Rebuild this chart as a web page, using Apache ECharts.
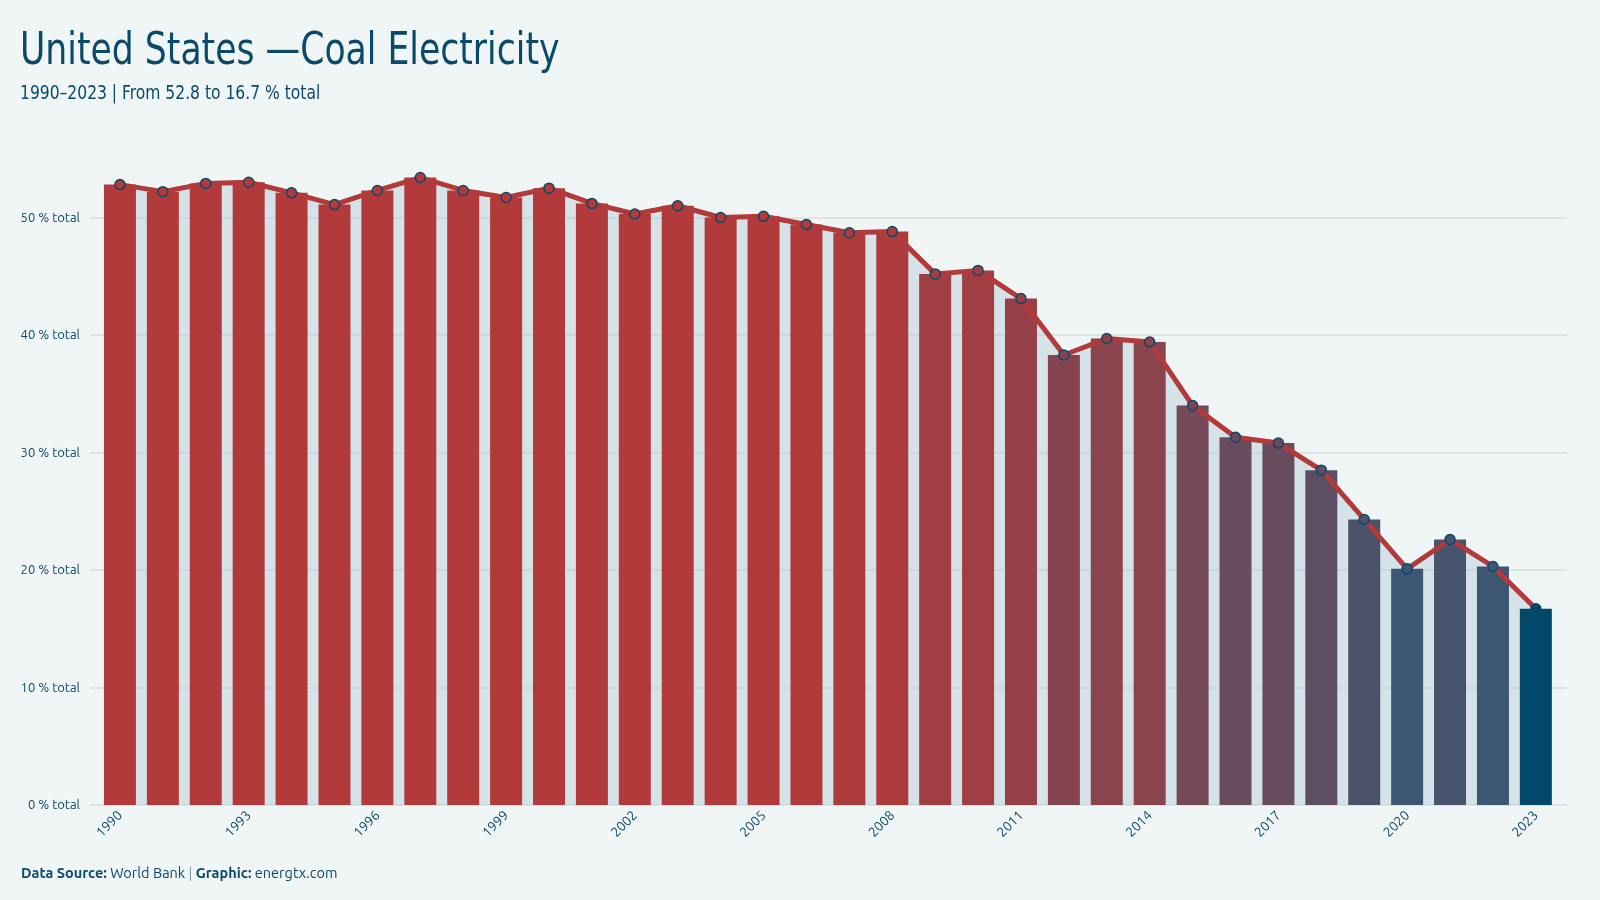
<!DOCTYPE html>
<html><head><meta charset="utf-8">
<script src="https://cdn.jsdelivr.net/npm/echarts@6/dist/echarts.min.js"></script>
<style>html,body{margin:0;padding:0;background:#f0f5f5;}#c{width:1600px;height:900px;}</style>
</head><body><div id="c"></div>
<script>
const years = ['1990','1991','1992','1993','1994','1995','1996','1997','1998','1999','2000','2001','2002','2003','2004','2005','2006','2007','2008','2009','2010','2011','2012','2013','2014','2015','2016','2017','2018','2019','2020','2021','2022','2023'];
const coalShare = [52.8,52.2,52.9,53.0,52.1,51.1,52.3,53.4,52.3,51.7,52.5,51.2,50.3,51.0,50.0,50.1,49.4,48.7,48.8,45.2,45.5,43.1,38.3,39.7,39.4,34.0,31.3,30.8,28.5,24.3,20.1,22.6,20.3,16.7];
const yTicks = [0,10,20,30,40,50];

const FONT = "'Ubuntu Condensed','DejaVu Sans Condensed','DejaVu Sans',sans-serif";
const FONT2 = "'Ubuntu','Noto Sans','Open Sans',sans-serif";
const navy = '#0b4a6a';

function hex(c){return [parseInt(c.slice(1,3),16),parseInt(c.slice(3,5),16),parseInt(c.slice(5,7),16)];}
function mix(a,b,t){const A=hex(a),B=hex(b);return 'rgb('+A.map((v,i)=>Math.round(v+(B[i]-v)*t)).join(',')+')';}
function colorFor(v,i){
  if(i===coalShare.length-1) return '#03476a';
  const t=Math.max(0,Math.min(1,(v-20)/30));
  return mix('#3c5673','#b33a3a',t);
}

const chart = echarts.init(document.getElementById('c'));
chart.setOption({
  backgroundColor:'#f0f5f5',
  animation:false,
  graphic:[
    {type:'text',x:20,y:31,scaleX:0.875,style:{text:'United States —Coal Electricity',font:'normal 44px '+FONT,fill:navy,verticalAlign:'top'}},
    {type:'text',x:20,y:85,scaleX:0.91,style:{text:'1990–2023 | From 52.8 to 16.7 % total',font:'normal 19px '+FONT,fill:navy,verticalAlign:'top'}}
  ],
  title:[
    {text:'{b|Data Source:} World Bank {s||} {b|Graphic:} energtx.com',left:16,top:861,
     textStyle:{fontFamily:FONT2,fontSize:14.5,fontWeight:'normal',color:navy,rich:{b:{fontFamily:FONT2,fontSize:14.5,fontWeight:'bold',color:navy},s:{fontSize:14.5,fontWeight:'normal',color:'#7f9aab'}}}}
  ],
  grid:[
    {left:90,right:33,top:217.5,bottom:95},
    {left:98.5,right:42.7,top:217.5,bottom:95}
  ],
  xAxis:[
    {gridIndex:0,type:'value',min:0,max:1,show:false},
    {gridIndex:1,type:'category',data:years,boundaryGap:true,
     axisLine:{show:false},axisTick:{show:false},
     axisLabel:{interval:2,rotate:45,margin:8,fontFamily:FONT2,fontSize:13.5,color:navy}}
  ],
  yAxis:[
    {gridIndex:0,type:'value',min:yTicks[0],max:yTicks[yTicks.length-1],interval:10,
     axisLine:{show:false},axisTick:{show:false},
     axisLabel:{formatter:v=>v+' % total',margin:10,fontFamily:FONT2,fontSize:13,color:navy},
     splitLine:{lineStyle:{color:'#d3dfe3',width:1.5}}},
    {gridIndex:1,type:'value',min:0,max:50,show:false,splitLine:{show:false}}
  ],
  series:[
    {type:'line',xAxisIndex:1,yAxisIndex:1,data:coalShare,clip:false,symbol:'none',z:1,
     lineStyle:{width:0},areaStyle:{color:'#a9c6d2',opacity:0.38},silent:true},
    {type:'bar',xAxisIndex:1,yAxisIndex:1,clip:false,barWidth:32,z:2,
     data:coalShare.map((v,i)=>({value:v,itemStyle:{color:colorFor(v,i)}}))},
    {type:'line',xAxisIndex:1,yAxisIndex:1,clip:false,z:3,symbol:'circle',symbolSize:10,
     lineStyle:{color:'#b33a3a',width:5},
     data:coalShare.map((v,i)=>({value:v,itemStyle:{color:colorFor(v,i),borderColor:navy,borderWidth:1.5}}))}
  ]
});
</script></body></html>
